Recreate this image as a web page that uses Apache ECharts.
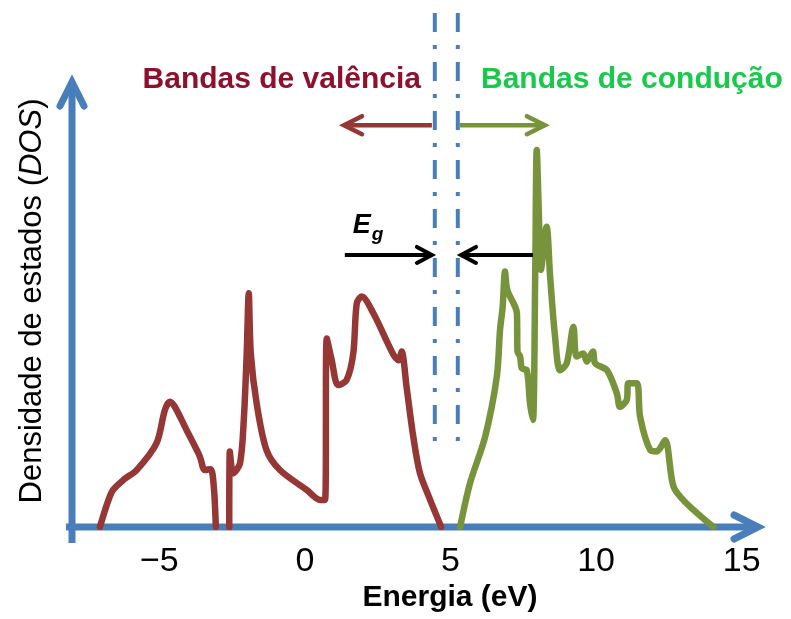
<!DOCTYPE html>
<html>
<head>
<meta charset="utf-8">
<script src="https://cdn.jsdelivr.net/npm/echarts@6/dist/echarts.min.js"></script>
<style>
  html, body { margin: 0; padding: 0; background: #ffffff; }
  #chart { width: 791px; height: 619px; }
</style>
</head>
<body>
<div id="chart"></div>
<script>
// Density of states, valence band (energy in eV, DOS in arbitrary units)
const valenceEnergy = [-7.04, -6.80, -6.59, -6.20, -5.78, -5.10, -4.81, -4.64, -4.47, -4.07, -3.61, -3.44, -3.24, -3.13, -3.06,
  -2.83,
  -2.60, -2.58, -2.46, -2.23, -2.10, -2.00, -1.93, -1.86, -1.66, -1.32, -0.86, 0.06, 0.52, 0.69,
  0.75, 0.92, 1.14, 1.43, 1.66, 1.78, 1.95, 2.35, 3.04, 3.21, 3.32, 3.49, 3.72, 3.95, 4.30, 4.68];
const valenceDos = [0, 5.0, 8.2, 10.6, 12.6, 18.5, 25.9, 27.7, 26.6, 21.5, 15.6, 12.6, 12.8, 8.9, 0,
  null,
  0, 16.7, 11.9, 14.1, 23.7, 38.4, 51.7, 38.4, 27.4, 17.0, 12.6, 8.2, 6.0, 6.0,
  41.7, 36.9, 31.4, 32.5, 38.4, 49.5, 51.0, 47.3, 38.1, 36.9, 38.8, 31.0, 20.0, 11.9, 6.0, 0];

// Density of states, conduction band
const conductionEnergy = [5.33, 5.67, 6.19, 6.59, 6.70, 6.79, 6.87, 6.95, 7.28, 7.30, 7.39, 7.45, 7.62, 7.73, 7.83,
  7.91, 7.96, 8.05, 8.10, 8.30, 8.42, 8.59, 8.76, 8.99, 9.22, 9.33, 9.56, 9.68, 9.89, 9.97,
  10.37, 10.71, 10.82, 11.05, 11.11, 11.40, 11.51, 11.86, 12.08, 12.37, 12.66, 13.11, 14.03];
const conductionDos = [0, 9.7, 20.0, 33.3, 43.6, 48.7, 56.5, 52.4, 47.3, 38.8, 37.7, 35.1, 34.7, 27.4, 23.7,
  56.9, 83.4, 65.7, 56.9, 66.4, 55.4, 42.1, 34.7, 36.2, 44.3, 37.7, 38.4, 36.6, 38.8, 36.2,
  34.7, 29.6, 26.6, 28.1, 31.8, 31.8, 24.4, 17.0, 16.7, 19.2, 8.9, 5.2, 0];

const energyTicks = [-5, 0, 5, 10, 15];

// Band edges (eV) and the DOS span of their marker lines
const gapEdges = [4.46, 5.25];
const gapLineSpan = [113.7, 17.9];

// Annotation arrows: [from eV, to eV] at a given DOS level
const bandArrowLevel = 88.9;
const valenceArrow = [4.36, 1.34];
const conductionArrow = [5.32, 8.24];
const gapArrowLevel = 60.2;
const gapArrowLeft = [1.37, 4.36];
const gapArrowRight = [7.83, 5.36];

const FONT = "'Liberation Sans', Arial, sans-serif";
const AXIS_BLUE = '#4A7EBB';
const RED = '#953735';
const GREEN = '#77933C';

const zip = (xs, ys) => xs.map((x, i) => [x, ys[i] === null ? null : ys[i]]);

const chart = echarts.init(document.getElementById('chart'), null, { renderer: 'canvas' });

const curveStyle = (color) => ({ color: color, width: 6.5, cap: 'round', join: 'round' });

chart.setOption({
  animation: false,
  backgroundColor: '#ffffff',
  textStyle: { fontFamily: FONT },
  grid: { left: 72, right: 26, top: 75, bottom: 92, containLabel: false, outerBoundsMode: 'none' },
  xAxis: {
    type: 'value', min: -8, max: 15.8,
    axisLine: { show: false }, axisTick: { show: false }, splitLine: { show: false },
    axisLabel: {
      customValues: energyTicks,
      formatter: (v) => (v < 0 ? '\u2212' + Math.abs(v) : String(v)),
      fontSize: 34, color: '#000', margin: 18, fontFamily: FONT
    }
  },
  yAxis: {
    type: 'value', min: 0, max: 100,
    axisLine: { show: false }, axisTick: { show: false }, splitLine: { show: false },
    axisLabel: { show: false },
    name: 'Densidade de estados ({i|DOS})',
    nameLocation: 'middle', nameRotate: 90, nameGap: 24,
    nameTextStyle: {
      fontFamily: FONT, fontSize: 31, color: '#000',
      rich: { i: { fontStyle: 'italic', fontSize: 31, color: '#000', fontFamily: FONT } }
    }
  },
  series: [
    {
      name: 'valence', type: 'line', data: zip(valenceEnergy, valenceDos),
      showSymbol: false, symbol: 'none', smooth: 0.3, connectNulls: false,
      lineStyle: curveStyle(RED), z: 4
    },
    {
      name: 'conduction', type: 'line', data: zip(conductionEnergy, conductionDos),
      showSymbol: false, symbol: 'none', smooth: 0.3,
      lineStyle: curveStyle(GREEN), z: 4
    },
    ...gapEdges.map((e) => ({
      type: 'line', data: gapLineSpan.map((v) => [e, v]), clip: false,
      showSymbol: false, symbol: 'none',
      lineStyle: { color: AXIS_BLUE, width: 4, type: [19, 13, 4, 13], cap: 'butt' }, z: 3
    }))
  ]
});

const px = (x, y) => chart.convertToPixel({ gridIndex: 0 }, [x, y]);

// Straight shaft plus open chevron head
function arrow(from, to, color, width, back, half, z) {
  const dx = to[0] - from[0], dy = to[1] - from[1];
  const L = Math.hypot(dx, dy), ux = dx / L, uy = dy / L, nx = -uy, ny = ux;
  return [
    { type: 'polyline', z: z, shape: { points: [from, to] },
      style: { stroke: color, lineWidth: width, fill: 'none', lineCap: 'butt' } },
    { type: 'polyline', z: z, shape: { points: [
        [to[0] - ux * back + nx * half, to[1] - uy * back + ny * half], to,
        [to[0] - ux * back - nx * half, to[1] - uy * back - ny * half]] },
      style: { stroke: color, lineWidth: width, fill: 'none', lineJoin: 'miter', lineCap: 'round' } }
  ];
}

function build() {
  const els = [];
  // axes
  const origin = px(-8, 0);
  const xTip = px(15.8, 0);
  const yTip = px(-8, 100);
  els.push(...arrow([origin[0] - 6, origin[1]], [xTip[0] - 7, xTip[1]], AXIS_BLUE, 7, 24, 12, 1));
  els.push(...arrow([origin[0], origin[1] + 16], [yTip[0], yTip[1] + 7], AXIS_BLUE, 7, 24, 12, 1));

  // band direction arrows
  els.push(...arrow(px(valenceArrow[0], bandArrowLevel), px(valenceArrow[1], bandArrowLevel), RED, 4.5, 18, 9, 5));
  els.push(...arrow(px(conductionArrow[0], bandArrowLevel), px(conductionArrow[1], bandArrowLevel), GREEN, 4.5, 18, 9, 5));
  // gap arrows
  els.push(...arrow(px(gapArrowLeft[0], gapArrowLevel), px(gapArrowLeft[1], gapArrowLevel), '#000', 4, 15, 8, 5));
  els.push(...arrow(px(gapArrowRight[0], gapArrowLevel), px(gapArrowRight[1], gapArrowLevel), '#000', 4, 15, 8, 5));

  const eg = px(gapArrowLeft[0], gapArrowLevel);
  els.push({ type: 'text', z: 6, x: eg[0] + 8, y: eg[1] - 29,
    style: { text: 'E', font: "italic bold 27px " + FONT, fill: '#000', textAlign: 'left', textVerticalAlign: 'middle' } });
  els.push({ type: 'text', z: 6, x: eg[0] + 27, y: eg[1] - 20,
    style: { text: 'g', font: "italic bold 19px " + FONT, fill: '#000', textAlign: 'left', textVerticalAlign: 'middle' } });

  // headings
  els.push({ type: 'text', z: 6, x: 421, y: 80,
    style: { text: 'Bandas de valência', font: 'bold 30px ' + FONT, fill: '#8E102C', textAlign: 'right', textVerticalAlign: 'middle' } });
  els.push({ type: 'text', z: 6, x: 481, y: 80,
    style: { text: 'Bandas de condução', font: 'bold 30px ' + FONT, fill: '#19C94B', textAlign: 'left', textVerticalAlign: 'middle' } });

  // x-axis title
  els.push({ type: 'text', z: 6, x: 450, y: 598,
    style: { text: 'Energia (eV)', font: 'bold 30px ' + FONT, fill: '#000', textAlign: 'center', textVerticalAlign: 'middle' } });

  chart.setOption({ graphic: { elements: els } });
}
build();
</script>
</body>
</html>
